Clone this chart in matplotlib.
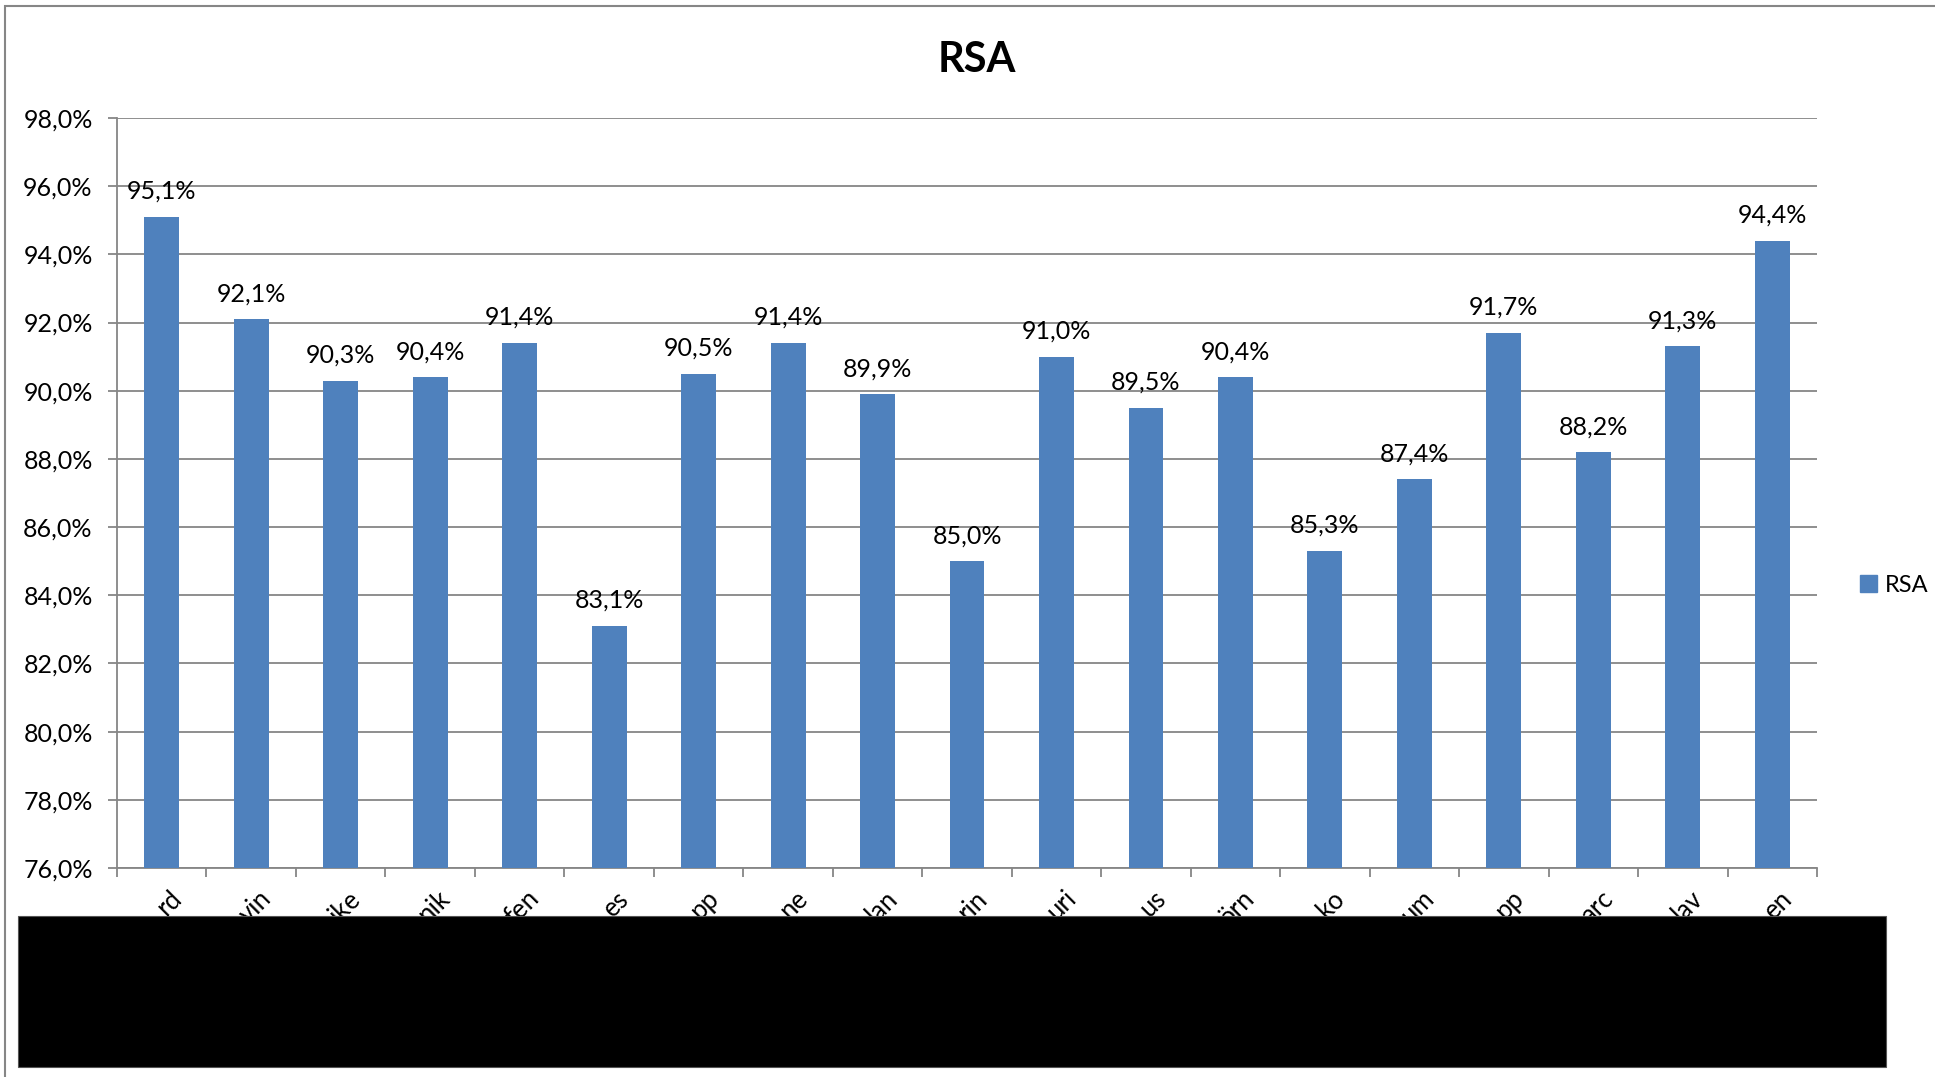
import matplotlib
matplotlib.use("Agg")
import matplotlib.pyplot as plt
from matplotlib.patches import Rectangle, Patch
from matplotlib.ticker import FixedLocator, FuncFormatter

# data
categories = ['rd', 'vin', 'ike', 'nik', 'fen', 'es', 'pp', 'ne', 'lan', 'rin',
              'uri', 'us', 'örn', 'ko', 'um', 'pp', 'arc', 'lav', 'en']
values = [95.1, 92.1, 90.3, 90.4, 91.4, 83.1, 90.5, 91.4, 89.9, 85.0,
          91.0, 89.5, 90.4, 85.3, 87.4, 91.7, 88.2, 91.3, 94.4]
series_name = 'RSA'
y_ticks = [76, 78, 80, 82, 84, 86, 88, 90, 92, 94, 96, 98]

bar_color = '#4F81BD'
grid_color = '#868686'

plt.rcParams['font.family'] = ['Lato', 'DejaVu Sans']

W, H = 1935, 1077
fig = plt.figure(figsize=(W / 100, H / 100), dpi=100)
ax = fig.add_axes([117 / W, 1 - 868 / H, 1700 / W, 750 / H])

x = list(range(len(values)))
ax.bar(x, values, width=0.39, color=bar_color, zorder=3, label=series_name)

ax.set_xlim(-0.5, len(values) - 0.5)
ax.set_ylim(76, 98)
ax.set_yticks(y_ticks)
ax.yaxis.set_major_formatter(FuncFormatter(lambda v, p: f"{v:.1f}%".replace('.', ',')))
ax.grid(axis='y', color=grid_color, linewidth=1.3, zorder=0)

for s in ['top', 'right']:
    ax.spines[s].set_visible(False)
for s in ['left', 'bottom']:
    ax.spines[s].set_color(grid_color)
    ax.spines[s].set_linewidth(1.3)

ax.tick_params(axis='y', length=6.5, width=1.3, color=grid_color, pad=11, labelsize=18)
# category ticks sit between the bars
ax.set_xticks([])
ax.xaxis.set_minor_locator(FixedLocator([i - 0.5 for i in range(len(values) + 1)]))
ax.tick_params(axis='x', which='minor', length=6.5, width=1.3, color=grid_color)

for i, lbl in enumerate(categories):
    ax.annotate(lbl, xy=(i, 0), xycoords=ax.get_xaxis_transform(),
                xytext=(7, -18), textcoords='offset pixels',
                rotation=45, rotation_mode='anchor', ha='right', va='top',
                fontsize=18.5)

for i, v in enumerate(values):
    ax.annotate(f"{v:.1f}%".replace('.', ','), xy=(i, v), xytext=(0, 14),
                textcoords='offset pixels', ha='center', va='bottom', fontsize=18)

fig.text(977 / W, 1 - 60 / H, 'RSA', ha='center', va='center',
         fontsize=30, fontweight='bold')

fig.legend(handles=[Patch(color=bar_color, label=series_name)], loc='center left',
           bbox_to_anchor=(1860 / W, 1 - 585 / H), bbox_transform=fig.transFigure,
           frameon=False, fontsize=17, handlelength=0.7, handleheight=0.7,
           handletextpad=0.35, borderpad=0, borderaxespad=0)

# outer chart frame (cropped on the right and bottom)
fig.add_artist(Rectangle((5 / W, -0.5), 2, 1.5 - 6 / H, transform=fig.transFigure,
                         fill=False, edgecolor=grid_color, linewidth=1.5))
# redaction box over the category names
fig.add_artist(Rectangle((18 / W, 1 - 1067 / H), 1868 / W, 151 / H,
                         transform=fig.transFigure, facecolor='black',
                         edgecolor='#555555', linewidth=0.8, zorder=10))

fig.savefig('out.png', dpi=100)
